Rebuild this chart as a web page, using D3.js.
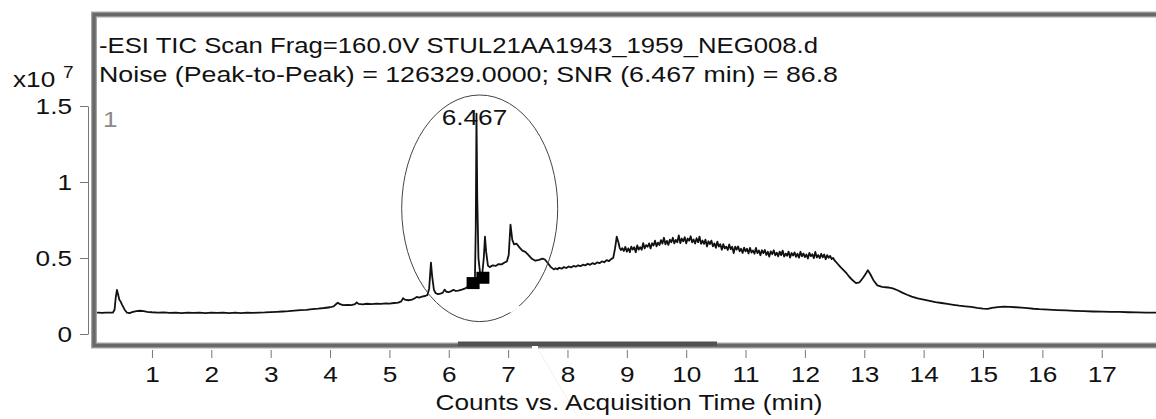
<!DOCTYPE html>
<html>
<head>
<meta charset="utf-8">
<script src="https://cdn.jsdelivr.net/npm/d3@7"></script>
<style>
  body { margin: 0; background: #fff; }
  svg { display: block; font-family: "Liberation Sans", Arial, sans-serif; }
</style>
</head>
<body>
<svg width="1156" height="419"></svg>
<script>
// TIC trace as [time (min), counts x1e7]
const trace = [
  [0.04, .140], [0.10, .141], [0.16, .139], [0.22, .141], [0.28, .140], [0.34, .140], [0.37, .160], [0.39, .240],
  [0.41, .290], [0.43, .260], [0.45, .225], [0.47, .215], [0.50, .190], [0.54, .160], [0.58, .140], [0.62, .137],
  [0.68, .145], [0.74, .150], [0.80, .153], [0.86, .150], [0.92, .146], [1.00, .143], [1.10, .141], [1.20, .142],
  [1.30, .139], [1.40, .141], [1.50, .138], [1.60, .141], [1.70, .139], [1.80, .141], [1.90, .138], [2.00, .140],
  [2.10, .139], [2.20, .141], [2.30, .138], [2.40, .140], [2.50, .138], [2.60, .140], [2.70, .139], [2.80, .141],
  [2.90, .142], [3.00, .144], [3.10, .146], [3.20, .148], [3.30, .150], [3.40, .154], [3.50, .157], [3.60, .159],
  [3.70, .164], [3.80, .167], [3.90, .171], [4.00, .176], [4.06, .182], [4.10, .196], [4.13, .206], [4.17, .196],
  [4.22, .190], [4.30, .192], [4.36, .190], [4.42, .196], [4.45, .208], [4.48, .198], [4.55, .195], [4.62, .199],
  [4.70, .197], [4.78, .200], [4.86, .198], [4.94, .202], [5.00, .200], [5.08, .204], [5.15, .206], [5.20, .215],
  [5.23, .236], [5.26, .226], [5.32, .222], [5.38, .226], [5.42, .234], [5.46, .244], [5.50, .240], [5.55, .246],
  [5.60, .250], [5.64, .256], [5.67, .300], [5.70, .470], [5.72, .380], [5.75, .290], [5.78, .268], [5.82, .262],
  [5.86, .265], [5.90, .272], [5.93, .292], [5.96, .278], [6.00, .275], [6.04, .282], [6.08, .290], [6.12, .283],
  [6.16, .286], [6.22, .292], [6.28, .300], [6.34, .318], [6.40, .330], [6.44, .345], [6.455, .700], [6.467, 1.450],
  [6.48, .900], [6.50, .500], [6.53, .390], [6.56, .380], [6.59, .500], [6.61, .640], [6.63, .540], [6.66, .450],
  [6.69, .440], [6.74, .452], [6.79, .448], [6.84, .460], [6.89, .458], [6.94, .470], [6.98, .478], [7.01, .520],
  [7.04, .720], [7.07, .620], [7.10, .590], [7.14, .595], [7.19, .570], [7.24, .548], [7.29, .540], [7.34, .520],
  [7.40, .495], [7.46, .482], [7.52, .488], [7.58, .496], [7.62, .490], [7.67, .465], [7.72, .440], [7.77, .425],
  [7.80, .432], [7.83, .426], [7.86, .436], [7.90, .430], [7.94, .440], [7.98, .434], [8.02, .444], [8.06, .438],
  [8.10, .448], [8.14, .443], [8.18, .452], [8.22, .446], [8.26, .456], [8.30, .451], [8.34, .462], [8.38, .455],
  [8.42, .466], [8.46, .460], [8.50, .471], [8.54, .466], [8.58, .478], [8.62, .472], [8.66, .486], [8.70, .480],
  [8.74, .494], [8.77, .500], [8.80, .560], [8.83, .640], [8.86, .600], [8.88, .565],
  [8.900, .552], [8.925, .565], [8.950, .546], [8.975, .573], [9.000, .542], [9.025, .563], [9.050, .538], [9.075, .575],
  [9.100, .556], [9.125, .571], [9.150, .538], [9.175, .583], [9.200, .555], [9.225, .571], [9.250, .554], [9.275, .598],
  [9.300, .563], [9.325, .585], [9.350, .574], [9.375, .596], [9.400, .563], [9.425, .597], [9.450, .582], [9.475, .614],
  [9.500, .577], [9.525, .601], [9.550, .586], [9.575, .618], [9.600, .595], [9.625, .633], [9.650, .590], [9.675, .613],
  [9.700, .586], [9.725, .621], [9.750, .604], [9.775, .633], [9.800, .596], [9.825, .619], [9.850, .604], [9.875, .649],
  [9.900, .598], [9.925, .628], [9.950, .609], [9.975, .637], [10.000, .596], [10.025, .628], [10.050, .614], [10.075, .643],
  [10.100, .603], [10.125, .622], [10.150, .595], [10.175, .630], [10.200, .604], [10.225, .641], [10.250, .593], [10.275, .615],
  [10.300, .593], [10.325, .621], [10.350, .576], [10.375, .610], [10.400, .592], [10.425, .614], [10.450, .577], [10.475, .596],
  [10.500, .567], [10.525, .607], [10.550, .575], [10.575, .591], [10.600, .555], [10.625, .591], [10.650, .563], [10.675, .575],
  [10.700, .553], [10.725, .589], [10.750, .558], [10.775, .574], [10.800, .532], [10.825, .575], [10.850, .555], [10.875, .576],
  [10.900, .544], [10.925, .561], [10.950, .533], [10.975, .568], [11.000, .544], [11.025, .561], [11.050, .530], [11.075, .567],
  [11.100, .536], [11.125, .549], [11.150, .528], [11.175, .566], [11.200, .532], [11.225, .549], [11.250, .518], [11.275, .551],
  [11.300, .532], [11.325, .553], [11.350, .520], [11.375, .541], [11.400, .509], [11.425, .544], [11.450, .525], [11.475, .551],
  [11.500, .518], [11.525, .535], [11.550, .511], [11.575, .542], [11.600, .519], [11.625, .549], [11.650, .510], [11.675, .529],
  [11.700, .515], [11.725, .542], [11.750, .503], [11.775, .533], [11.800, .516], [11.825, .537], [11.850, .507], [11.875, .528],
  [11.900, .502], [11.925, .541], [11.950, .511], [11.975, .530], [12.000, .506], [12.025, .523], [12.050, .497], [12.075, .534],
  [12.100, .512], [12.125, .525], [12.150, .499], [12.175, .540], [12.200, .504], [12.225, .519], [12.250, .499], [12.275, .528],
  [12.300, .504], [12.325, .523], [12.350, .492], [12.375, .519], [12.400, .502], [12.425, .514], [12.450, .493], [12.475, .501],
  [12.500, .484], [12.55, .462], [12.60, .440], [12.65, .420], [12.70, .400], [12.75, .375], [12.80, .355], [12.86, .335],
  [12.92, .340], [12.98, .370], [13.03, .400], [13.06, .420], [13.10, .395], [13.16, .350], [13.22, .320], [13.30, .310],
  [13.40, .306], [13.48, .300], [13.56, .288], [13.64, .272], [13.72, .258], [13.80, .246], [13.90, .234], [14.00, .226],
  [14.10, .218], [14.20, .210], [14.30, .204], [14.40, .198], [14.50, .192], [14.60, .186], [14.70, .182], [14.80, .178],
  [14.90, .172], [15.00, .167], [15.08, .165], [15.15, .172], [15.25, .177], [15.35, .180], [15.45, .179], [15.55, .176],
  [15.65, .173], [15.75, .170], [15.85, .166], [15.95, .163], [16.10, .160], [16.25, .157], [16.40, .155], [16.55, .152],
  [16.70, .150], [16.85, .148], [17.00, .147], [17.15, .146], [17.30, .145], [17.45, .143], [17.60, .142], [17.75, .141],
  [17.95, .140]
];
// integration markers around the main peak
const markers = [
  { t: 6.41, v: 0.335 },
  { t: 6.575, v: 0.37 }
];
const xTicks = [1, 2, 3, 4, 5, 6, 7, 8, 9, 10, 11, 12, 13, 14, 15, 16, 17];
const yTicks = [0, 0.5, 1, 1.5];
const peakTime = 6.467;
const titleLines = [
  '-ESI TIC Scan Frag=160.0V STUL21AA1943_1959_NEG008.d',
  'Noise (Peak-to-Peak) = 126329.0000; SNR (6.467 min) = 86.8'
];

const SX = 1.19; // text in the picture is a bit wider than Arial
const FS = 22;

const svg = d3.select('svg');

const x = d3.scaleLinear().domain([0, 18]).range([92.6, 92.6 + 18 * 59.36]);
const y = d3.scaleLinear().domain([0, 1.5]).range([334, 106]);

function label(x0, y0, txt, anchor, size, fill) {
  return svg.append('text')
    .attr('transform', `translate(${x0},${y0}) scale(${SX},1)`)
    .attr('text-anchor', anchor)
    .attr('font-size', size)
    .attr('fill', fill || '#111')
    .text(txt);
}

// frame
svg.append('clipPath').attr('id', 'plot')
  .append('rect').attr('x', 97).attr('y', 17).attr('width', 1100).attr('height', 326);

svg.append('rect')
  .attr('x', 94).attr('y', 14.5).attr('width', 1200).attr('height', 331)
  .attr('fill', 'none').attr('stroke', '#a4a4a4').attr('stroke-width', 6);
svg.append('rect')
  .attr('x', 94).attr('y', 14.5).attr('width', 1200).attr('height', 331)
  .attr('fill', 'none').attr('stroke', '#686868').attr('stroke-width', 3.5);

// dark bar on the bottom of the frame
svg.append('rect').attr('x', 458).attr('y', 341.5).attr('width', 259).attr('height', 4.5).attr('fill', '#505050');
svg.append('rect').attr('x', 532).attr('y', 346).attr('width', 6).attr('height', 3).attr('fill', '#fff');
svg.append('line').attr('x1', 538).attr('y1', 349).attr('x2', 578).attr('y2', 417)
  .attr('stroke', '#f0f0f0').attr('stroke-width', 1);

// titles, stretched to the widths seen in the picture
const titleWidths = [719, 739];
titleLines.forEach((t, i) => {
  svg.append('text')
    .attr('x', 99).attr('y', 53 + i * 29)
    .attr('font-size', FS).attr('fill', '#111')
    .attr('textLength', titleWidths[i]).attr('lengthAdjust', 'spacingAndGlyphs')
    .text(t);
});
label(13, 87, 'x10', 'start', FS);
label(63, 78, '7', 'start', 16);
label(103, 127, '1', 'start', FS, '#8a8a8a');

// axes
const xAxis = svg.append('g')
  .attr('transform', 'translate(0,350)')
  .call(d3.axisBottom(x).tickValues(xTicks).tickSize(8).tickPadding(8.5).tickSizeOuter(0));
xAxis.select('.domain').remove();
xAxis.selectAll('line').attr('stroke', '#777');
xAxis.selectAll('text')
  .attr('font-size', FS).attr('font-family', '"Liberation Sans", Arial, sans-serif')
  .attr('fill', '#111').attr('transform', `scale(${SX},1)`);

const yAxis = svg.append('g')
  .attr('transform', 'translate(88,0)')
  .call(d3.axisLeft(y).tickValues(yTicks).tickFormat(d3.format('~g')).tickSize(8).tickSizeOuter(0));
yAxis.select('.domain').attr('stroke', '#777');
yAxis.selectAll('line').attr('stroke', '#777');
yAxis.selectAll('text')
  .attr('font-size', FS).attr('font-family', '"Liberation Sans", Arial, sans-serif')
  .attr('fill', '#111')
  .attr('x', -16 / SX)
  .attr('transform', `scale(${SX},1)`);

label(629, 410, 'Counts vs. Acquisition Time (min)', 'middle', FS);

// peak label
label(x(peakTime) - 2, 125, peakTime.toFixed(3), 'middle', FS);

// trace
const line = d3.line()
  .x(d => x(d[0]))
  .y(d => y(d[1]));

const plot = svg.append('g').attr('clip-path', 'url(#plot)');

plot.append('path')
  .datum(trace)
  .attr('d', line)
  .attr('fill', 'none')
  .attr('stroke', '#111')
  .attr('stroke-width', 1.8)
  .attr('stroke-linejoin', 'round');

plot.selectAll('rect.mark')
  .data(markers)
  .enter().append('rect')
  .attr('class', 'mark')
  .attr('x', d => x(d.t) - 6.5)
  .attr('y', d => y(d.v) - 6)
  .attr('width', 13)
  .attr('height', 12)
  .attr('fill', '#000');

// ellipse around the peak region
svg.append('ellipse')
  .attr('cx', 479.7).attr('cy', 208.3).attr('rx', 78).attr('ry', 113.3)
  .attr('fill', 'none').attr('stroke', '#444').attr('stroke-width', 1);
svg.append('line').attr('x1', 510).attr('y1', 311.5).attr('x2', 519).attr('y2', 305.5)
  .attr('stroke', '#fff').attr('stroke-width', 3);
</script>
</body>
</html>
